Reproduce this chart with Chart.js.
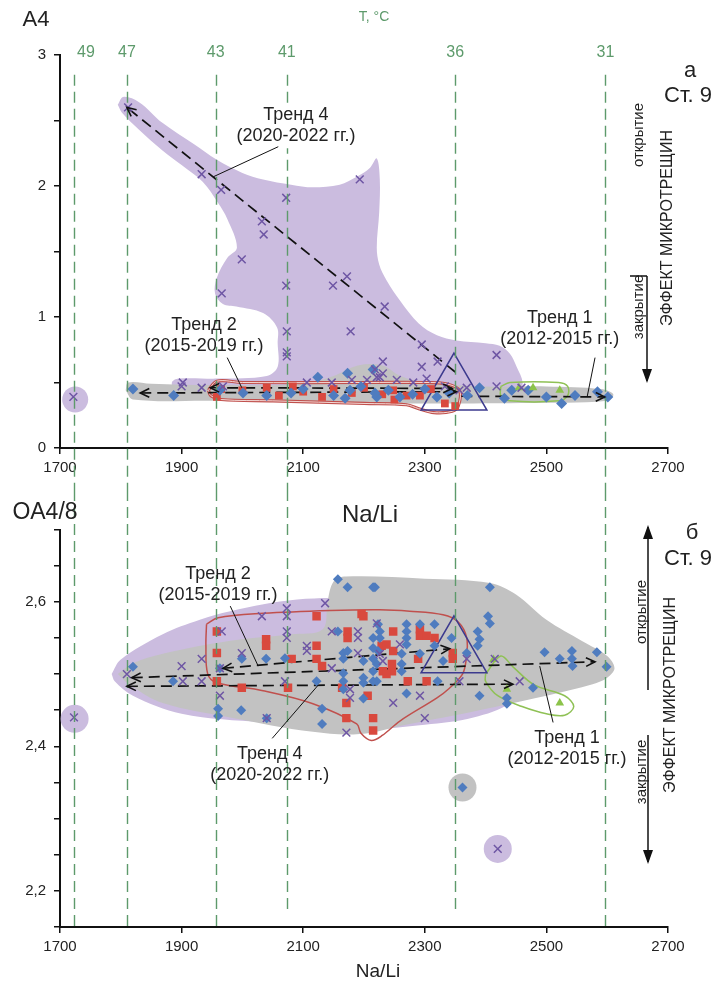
<!DOCTYPE html>
<html><head><meta charset="utf-8">
<script src="https://cdn.jsdelivr.net/npm/chart.js@4.4.1/dist/chart.umd.min.js"></script>
<style>
html,body{margin:0;padding:0;background:#fff;}
#wrap{position:relative;width:721px;height:984px;overflow:hidden;font-family:"Liberation Sans",Arial,sans-serif;color:#222;}
canvas{position:absolute;left:0;}
#c1{top:0;} #c2{top:490px;}
.t{position:absolute;white-space:nowrap;line-height:1;}
.c{transform:translate(-50%,-50%);}
.r{transform:translate(-50%,-50%) rotate(-90deg);}
</style></head><body>
<div id="wrap">
<canvas id="c1" width="721" height="490"></canvas>
<canvas id="c2" width="721" height="494"></canvas>
<div class="t c" style="left:36px;top:19px;font-size:22px">A4</div>
<div class="t c" style="left:374px;top:16px;font-size:14px;color:#5d9a6b">T, °C</div>
<div class="t c" style="left:690px;top:70px;font-size:22px">а</div>
<div class="t c" style="left:688px;top:95px;font-size:22px">Ст. 9</div>
<div class="t r" style="left:637px;top:135px;font-size:15px">открытие</div>
<div class="t r" style="left:637px;top:307px;font-size:15px">закрытие</div>
<div class="t r" style="left:667px;top:228px;font-size:16px">ЭФФЕКТ МИКРОТРЕЩИН</div>
<div class="t c" style="left:370px;top:514px;font-size:24px">Na/Li</div>
<div class="t c" style="left:45px;top:511px;font-size:23px">OA4/8</div>
<div class="t c" style="left:692px;top:532px;font-size:22px">б</div>
<div class="t c" style="left:688px;top:558px;font-size:22px">Ст. 9</div>
<div class="t r" style="left:640px;top:612px;font-size:15px">открытие</div>
<div class="t r" style="left:640px;top:772px;font-size:15px">закрытие</div>
<div class="t r" style="left:670px;top:695px;font-size:16px">ЭФФЕКТ МИКРОТРЕЩИН</div>
<div class="t c" style="left:378px;top:970px;font-size:19px">Na/Li</div>
</div>
<script>
// ---------- data ----------
const xTickValues = [1700, 1900, 2100, 2300, 2500, 2700];
const tempLabels = ['49', '47', '43', '41', '36', '31'];
const tempNaLi = [1723, 1810, 1956, 2073, 2350, 2597];

// top panel (A4)
const topBlue = [[1820,0.45],[1887,0.40],[1963,0.44],[2001,0.42],[2040,0.40],[2124,0.54],[2173,0.57],[2215,0.60],[2177,0.44],[2221,0.39],[2169,0.38],[2218,0.42],[2259,0.39],[2320,0.39],[2390,0.46],[2431,0.38],[2443,0.44],[2500,0.39],[2525,0.34],[2547,0.40],[2584,0.43],[2601,0.39],[2080,0.42],[2100,0.45],[2150,0.40],[2195,0.47],[2240,0.44],[2280,0.41],[2300,0.45],[2340,0.42],[2370,0.40],[2470,0.44]];
const topRed = [[1958,0.39],[1965,0.45],[2000,0.44],[2040,0.46],[2083,0.47],[2131,0.39],[2150,0.45],[2180,0.42],[2200,0.46],[2230,0.41],[2248,0.44],[2270,0.40],[2292,0.40],[2310,0.45],[2333,0.34],[2350,0.32],[2100,0.43],[2060,0.40],[2250,0.37]];
const topPurple = [[1812,2.60],[1933,2.09],[1965,1.97],[2072,1.91],[2193,2.05],[2032,1.73],[2035,1.63],[1999,1.44],[2172,1.31],[1966,1.18],[2072,1.24],[2149,1.24],[2234,1.08],[2073,0.89],[2178,0.89],[2073,0.73],[2073,0.70],[2231,0.66],[2221,0.54],[2231,0.57],[2205,0.52],[2218,0.60],[1902,0.50],[1900,0.47],[1933,0.46],[1722,0.39],[2106,0.50],[2147,0.50],[2180,0.52],[1968,0.47],[2295,0.79],[2295,0.62],[2321,0.66],[2303,0.53],[2418,0.71],[2418,0.47],[2459,0.46],[2369,0.46],[2226,0.54],[2254,0.52],[2281,0.50],[2333,0.47],[2357,0.44]];
const topGreen = [[2478,0.46],[2522,0.44],[2455,0.46]];
const topTriangle = [[2348,0.435]];
const topPurpleArea = [[1795,2.62],[1804,2.68],[1830,2.64],[1869,2.48],[1920,2.32],[1958,2.20],[2000,2.10],[2034,2.05],[2080,2.01],[2116,1.99],[2160,2.01],[2188,2.07],[2210,2.14],[2221,2.21],[2226,2.05],[2225,1.80],[2221,1.53],[2225,1.40],[2237,1.28],[2260,1.12],[2290,0.95],[2320,0.86],[2352,0.82],[2400,0.80],[2423,0.78],[2440,0.72],[2451,0.62],[2461,0.50],[2455,0.45],[2400,0.44],[2300,0.44],[2100,0.45],[1950,0.44],[1890,0.44],[1884,0.50],[1895,0.53],[1960,0.53],[2040,0.55],[2058,0.62],[2058,0.80],[2057,0.92],[2034,1.03],[1990,1.08],[1968,1.10],[1955,1.18],[1958,1.30],[1975,1.45],[1991,1.53],[1975,1.75],[1960,1.87],[1935,2.03],[1900,2.16],[1869,2.27],[1830,2.43],[1802,2.56],[1795,2.62]];
const topGrayArea = [[1808,0.44],[1812,0.50],[1850,0.49],[1950,0.48],[2100,0.49],[2150,0.55],[2190,0.63],[2230,0.63],[2260,0.55],[2300,0.50],[2400,0.47],[2500,0.47],[2590,0.45],[2610,0.41],[2600,0.36],[2500,0.345],[2300,0.34],[2100,0.35],[1950,0.36],[1820,0.37],[1808,0.44]];
const topRedArea = [[1944,0.44],[1958,0.51],[2000,0.50],[2200,0.50],[2300,0.50],[2335,0.49],[2357,0.44],[2355,0.32],[2345,0.28],[2315,0.27],[2290,0.30],[2270,0.33],[2200,0.34],[2050,0.36],[1965,0.37],[1948,0.40],[1944,0.44]];
const topGreenArea = [[2425,0.47],[2440,0.50],[2520,0.50],[2535,0.47],[2535,0.40],[2520,0.36],[2440,0.36],[2425,0.40],[2425,0.47]];
const topBlobsPurple = [[1725,0.37]];
const topTrends = [
  {from:[2350,0.58], to:[1810,2.60], heads:'end'},
  {from:[1832,0.42], to:[2352,0.43], heads:'both'},
  {from:[1947,0.46], to:[2345,0.455], heads:'both'},
  {from:[2360,0.395], to:[2596,0.39], heads:'end'}
];
const topNotes = [
  {text:['Тренд 4','(2020-2022 гг.)'], at:[2088,2.54], from:[2059,2.30], to:[1952,2.07], bg:true},
  {text:['Тренд 2','(2015-2019 гг.)'], at:[1937,0.94], from:[1975,0.69], to:[1999,0.46]},
  {text:['Тренд 1','(2012-2015 гг.)'], at:[2522,0.99], from:[2580,0.69], to:[2567,0.39]}
];

// bottom panel (OA4/8)
const botBlue = [[2157,2.631],[2173,2.620],[2218,2.620],[1820,2.510],[1886,2.490],[1963,2.508],[1999,2.521],[2039,2.521],[1960,2.452],[1960,2.442],[1998,2.450],[2040,2.439],[2122,2.490],[2131,2.452],[2131,2.431],[2157,2.559],[2166,2.529],[2166,2.521],[2166,2.501],[2166,2.490],[2166,2.479],[2173,2.532],[2199,2.466],[2226,2.559],[2226,2.550],[2223,2.532],[2221,2.514],[2221,2.490],[2199,2.518],[2199,2.495],[2070,2.522],[2215,2.620],[2407,2.620],[2404,2.580],[2407,2.570],[2223,2.569],[2270,2.569],[2292,2.569],[2316,2.569],[2270,2.559],[2270,2.550],[2270,2.541],[2215,2.550],[2215,2.536],[2215,2.521],[2215,2.504],[2215,2.490],[2262,2.528],[2262,2.514],[2262,2.504],[2292,2.528],[2316,2.539],[2330,2.518],[2344,2.550],[2369,2.529],[2387,2.559],[2390,2.548],[2387,2.539],[2321,2.490],[2270,2.473],[2390,2.470],[2199,2.488],[2497,2.530],[2522,2.521],[2542,2.532],[2542,2.521],[2543,2.511],[2583,2.530],[2599,2.510],[2478,2.481],[2435,2.467],[2435,2.459],[2362,2.343]];
const botRed = [[1958,2.559],[1958,2.529],[1958,2.490],[1999,2.481],[2039,2.548],[2039,2.539],[2081,2.521],[2075,2.481],[2122,2.580],[2122,2.539],[2122,2.521],[2131,2.511],[2173,2.559],[2173,2.550],[2164,2.481],[2171,2.460],[2171,2.439],[2199,2.580],[2206,2.470],[2215,2.439],[2215,2.422],[2229,2.539],[2231,2.504],[2196,2.583],[2248,2.559],[2292,2.562],[2292,2.553],[2303,2.553],[2316,2.550],[2237,2.541],[2248,2.532],[2289,2.521],[2346,2.529],[2346,2.521],[2246,2.514],[2246,2.504],[2237,2.500],[2272,2.490],[2303,2.490]];
const botPurple = [[1810,2.500],[1900,2.511],[1902,2.490],[1933,2.521],[1933,2.490],[1966,2.559],[1963,2.508],[1963,2.470],[1999,2.529],[2032,2.580],[2040,2.439],[2073,2.591],[2073,2.580],[2073,2.559],[2073,2.550],[2070,2.490],[2106,2.539],[2106,2.532],[2136,2.598],[2147,2.559],[2147,2.508],[2190,2.559],[2190,2.550],[2190,2.529],[2177,2.479],[2177,2.467],[2171,2.419],[2221,2.570],[2226,2.528],[2231,2.518],[2259,2.541],[2369,2.521],[2357,2.490],[2248,2.460],[2300,2.439],[2292,2.470],[2456,2.490],[2415,2.521],[1723,2.440],[2420,2.258]];
const botGreen = [[2522,2.460],[2435,2.479],[2413,2.520]];
const botTriangle = [[2348,2.528]];
const botPurpleArea = [[1785,2.50],[1800,2.52],[1869,2.555],[1930,2.575],[1980,2.587],[2090,2.603],[2199,2.603],[2260,2.59],[2330,2.57],[2400,2.55],[2450,2.52],[2460,2.49],[2440,2.46],[2380,2.44],[2300,2.43],[2199,2.424],[2034,2.433],[1900,2.445],[1820,2.47],[1790,2.49],[1785,2.50]];
const botGrayArea = [[1795,2.50],[1820,2.515],[1869,2.528],[1980,2.546],[2080,2.555],[2132,2.562],[2140,2.60],[2150,2.628],[2170,2.635],[2300,2.632],[2407,2.626],[2450,2.61],[2500,2.575],[2560,2.545],[2600,2.525],[2612,2.508],[2600,2.495],[2576,2.486],[2500,2.47],[2440,2.459],[2350,2.443],[2275,2.431],[2193,2.417],[2116,2.42],[1980,2.44],[1869,2.46],[1815,2.485],[1795,2.50]];
const botRedArea = [[1941,2.569],[1960,2.578],[2034,2.584],[2144,2.588],[2226,2.589],[2275,2.587],[2330,2.582],[2355,2.572],[2369,2.55],[2368,2.52],[2362,2.50],[2340,2.48],[2320,2.467],[2259,2.435],[2230,2.415],[2212,2.408],[2195,2.418],[2188,2.431],[2116,2.459],[2034,2.477],[1958,2.488],[1943,2.50],[1940,2.54],[1941,2.569]];
const botGreenArea = [[2400,2.50],[2425,2.525],[2445,2.51],[2480,2.485],[2530,2.47],[2545,2.455],[2530,2.443],[2500,2.445],[2460,2.455],[2420,2.47],[2400,2.49],[2400,2.50]];
const botBlobsPurple = [[1724,2.438],[2420,2.258]];
const botBlobsGray = [[2362,2.343]];
const botTrends = [
  {from:[1968,2.508], to:[2341,2.535], heads:'both'},
  {from:[1818,2.495], to:[2580,2.517], heads:'both'},
  {from:[1810,2.483], to:[2445,2.486], heads:'both'}
];
const botNotes = [
  {text:['Тренд 2','(2015-2019 гг.)'], at:[1960,2.639], from:[1980,2.594], to:[2026,2.511]},
  {text:['Тренд 4','(2020-2022 гг.)'], at:[2045,2.390], from:[2049,2.411], to:[2124,2.484]},
  {text:['Тренд 1','(2012-2015 гг.)'], at:[2534,2.411], from:[2511,2.433], to:[2489,2.511]}
];

// ---------- helpers ----------
const FONT = '"Liberation Sans", Arial, sans-serif';
const GREEN_T = '#5d9a6b';
const pt = a => a.map(([x, y]) => ({x, y}));

function areaDs(arr, fillColor, lineColor, order, lw) {
  return {type:'line', data: pt(arr), showLine:true, fill: fillColor ? 'shape' : false,
    backgroundColor: fillColor || 'transparent', borderColor: lineColor || 'transparent',
    borderWidth: lw || 0, pointRadius:0, tension:0.35, order};
}
function trendDs(tr, order) {
  return tr.map(t => ({type:'line', data: pt([t.from, t.to]), showLine:true, fill:false,
    borderColor:'#111', borderWidth:1.7, borderDash:[11,6], pointRadius:0, tension:0, order}));
}
function pointsDs(arr, style, color, radius, order, stroke) {
  return {type:'scatter', data: pt(arr), pointStyle: style, pointRadius: radius,
    backgroundColor: stroke ? 'transparent' : color, borderColor: color,
    borderWidth: stroke ? 1.5 : 0, order};
}

const decoPlugin = {
  id: 'deco',
  afterDatasetsDraw(chart, args, o) {
    const {ctx} = chart;
    const X = chart.scales.x, Y = chart.scales.y;
    ctx.save();
    // temperature lines
    ctx.strokeStyle = GREEN_T; ctx.lineWidth = 1.4; ctx.setLineDash([11, 6]);
    tempNaLi.forEach((v, i) => {
      const px = Math.round(X.getPixelForValue(v)) + 0.5;
      const y0 = o.lineTop != null ? Y.getPixelForValue(o.lineTop) : 0;
      const y1 = o.lineEnd ? Y.getPixelForValue(o.lineEnd[i]) : chart.height;
      ctx.beginPath(); ctx.moveTo(px, y0); ctx.lineTo(px, y1); ctx.stroke();
    });
    ctx.setLineDash([]);
    if (o.tempLabelY != null) {
      ctx.fillStyle = GREEN_T; ctx.font = '16px ' + FONT; ctx.textAlign = 'center'; ctx.textBaseline = 'middle';
      tempNaLi.forEach((v, i) => {
        ctx.fillText(tempLabels[i], X.getPixelForValue(v) + (i === 0 ? 12 : 0), o.tempLabelY);
      });
    }
    // arrowheads
    ctx.strokeStyle = '#111'; ctx.lineWidth = 1.6;
    const head = (ax, ay, bx, by) => {
      const a = Math.atan2(by - ay, bx - ax), L = 10, w = 0.45;
      ctx.beginPath();
      ctx.moveTo(bx - L * Math.cos(a - w), by - L * Math.sin(a - w));
      ctx.lineTo(bx, by);
      ctx.lineTo(bx - L * Math.cos(a + w), by - L * Math.sin(a + w));
      ctx.stroke();
    };
    o.trends.forEach(t => {
      const ax = X.getPixelForValue(t.from[0]), ay = Y.getPixelForValue(t.from[1]);
      const bx = X.getPixelForValue(t.to[0]), by = Y.getPixelForValue(t.to[1]);
      head(ax, ay, bx, by);
      if (t.heads === 'both') head(bx, by, ax, ay);
    });
    // notes
    ctx.font = '18px ' + FONT; ctx.textAlign = 'center'; ctx.textBaseline = 'middle';
    ctx.lineWidth = 1;
    o.notes.forEach(n => {
      const x = X.getPixelForValue(n.at[0]), y = Y.getPixelForValue(n.at[1]);
      if (n.bg) {
        const w = Math.max(...n.text.map(s => ctx.measureText(s).width)) + 6;
        ctx.fillStyle = '#fff';
        ctx.fillRect(x - w / 2, y - 12, w, 21 * n.text.length + 3);
      }
      ctx.fillStyle = '#222';
      n.text.forEach((s, k) => ctx.fillText(s, x, y + k * 21));
      ctx.beginPath();
      ctx.moveTo(X.getPixelForValue(n.from[0]), Y.getPixelForValue(n.from[1]));
      ctx.lineTo(X.getPixelForValue(n.to[0]), Y.getPixelForValue(n.to[1]));
      ctx.stroke();
    });
    // side arrows (pixel layout)
    ctx.fillStyle = '#111'; ctx.lineWidth = 1.5;
    (o.side || []).forEach(s => {
      ctx.beginPath(); ctx.moveTo(s.x, s.y0); ctx.lineTo(s.x, s.y1); ctx.stroke();
      if (s.bar) { ctx.beginPath(); ctx.moveTo(s.x - 17, s.y0); ctx.lineTo(s.x, s.y0); ctx.stroke(); }
      const d = s.y1 > s.y0 ? 1 : -1;
      ctx.beginPath(); ctx.moveTo(s.x, s.y1 + d * 2); ctx.lineTo(s.x - 5, s.y1 - d * 12); ctx.lineTo(s.x + 5, s.y1 - d * 12); ctx.closePath(); ctx.fill();
    });
    ctx.restore();
  }
};

function axes(yMin, yMax, yStep, yLabel, xH) {
  return {
    x: {type:'linear', min:1700, max:2700,
      afterBuildTicks: s => { s.ticks = xTickValues.map(v => ({value: v})); },
      afterFit: s => { s.height = xH; },
      border: {display:true, color:'#111', width:2},
      grid: {drawOnChartArea:false, drawTicks:true, tickLength:6, color:'#111', lineWidth:1.5},
      ticks: {color:'#222', font:{family:FONT, size:15}, padding:5, maxRotation:0, autoSkip:false,
        callback: v => String(v)}},
    y: {type:'linear', min:yMin, max:yMax,
      afterFit: s => { s.width = 60; },
      border: {display:true, color:'#111', width:2},
      grid: {drawOnChartArea:false, drawTicks:true, tickLength:6, color:'#111', lineWidth:1.5},
      ticks: {stepSize:yStep, color:'#222', font:{family:FONT, size:15}, padding:8, autoSkip:false, callback: yLabel}}
  };
}

const PURPLE_F = '#cbbcdf', GRAY_F = '#c2c2c2', RED_L = '#c0504d', GREEN_L = '#8fc155';
const BLUE = '#4f7cbf', RED = '#d9493e', PURP = '#6e56a4', GREEN_P = '#8cc34a', NAVY = '#3c3a8e';

Chart.defaults.font.family = FONT;

new Chart(document.getElementById('c1'), {
  type: 'scatter',
  data: {datasets: [
    pointsDs(topGreen, 'triangle', GREEN_P, 5, 1),
    pointsDs(topBlue, 'rectRot', BLUE, 5.5, 2),
    pointsDs(topRed, 'rect', RED, 5.5, 3),
    pointsDs(topPurple, 'crossRot', PURP, 5.5, 0, true),
    pointsDs(topTriangle, 'triangle', NAVY, 38, 4, true),
    ...trendDs(topTrends, 5),
    areaDs(topGreenArea, null, GREEN_L, 6, 1.5),
    areaDs(topRedArea, null, '#f3d9d6', 6.5, 1),
    areaDs(topRedArea, null, RED_L, 7, 3.2),
    areaDs(topGrayArea, GRAY_F, null, 8),
    areaDs(topPurpleArea, PURPLE_F, null, 9),
    pointsDs(topBlobsPurple, 'circle', PURPLE_F, 13, 10)
  ]},
  options: {
    responsive:false, animation:false, devicePixelRatio:1, events:[],
    layout:{padding:{top:55, right:53, left:0, bottom:0}},
    plugins:{legend:{display:false}, tooltip:{enabled:false},
      deco:{lineTop:2.85, tempLabelY:53, trends:topTrends, notes:topNotes,
        side:[{x:647, y0:276, y1:381, bar:true}]}},
    scales: axes(0, 3, 0.5, v => Number.isInteger(v) ? String(v) : '', 42)
  },
  plugins:[decoPlugin]
});

new Chart(document.getElementById('c2'), {
  type: 'scatter',
  data: {datasets: [
    pointsDs(botGreen, 'triangle', GREEN_P, 5, 1),
    pointsDs(botBlue, 'rectRot', BLUE, 5, 2),
    pointsDs(botRed, 'rect', RED, 6, 3),
    pointsDs(botPurple, 'crossRot', PURP, 5.5, 0, true),
    pointsDs(botTriangle, 'triangle', NAVY, 38, 4, true),
    ...trendDs(botTrends, 5),
    areaDs(botGreenArea, null, GREEN_L, 6, 1.5),
    areaDs(botRedArea, null, RED_L, 7, 1.5),
    areaDs(botGrayArea, GRAY_F, null, 8),
    areaDs(botPurpleArea, PURPLE_F, null, 9),
    pointsDs(botBlobsGray, 'circle', GRAY_F, 14, 10),
    pointsDs(botBlobsPurple, 'circle', PURPLE_F, 14, 11)
  ]},
  options: {
    responsive:false, animation:false, devicePixelRatio:1, events:[],
    layout:{padding:{top:38, right:53, left:0, bottom:0}},
    plugins:{legend:{display:false}, tooltip:{enabled:false},
      deco:{lineTop:null, tempLabelY:null, lineEnd:[2.15,2.15,2.15,2.17,2.17,2.15], trends:botTrends, notes:botNotes,
        side:[{x:648, y0:200, y1:37}, {x:648, y0:245, y1:372}]}},
    scales: axes(2.15, 2.70, 0.05, v => {
      const t = Math.round(v * 100);
      return (t === 220 || t === 240 || t === 260) ? (t / 100).toFixed(1).replace('.', ',') : '';
    }, 57)
  },
  plugins:[decoPlugin]
});
</script>
</body></html>
